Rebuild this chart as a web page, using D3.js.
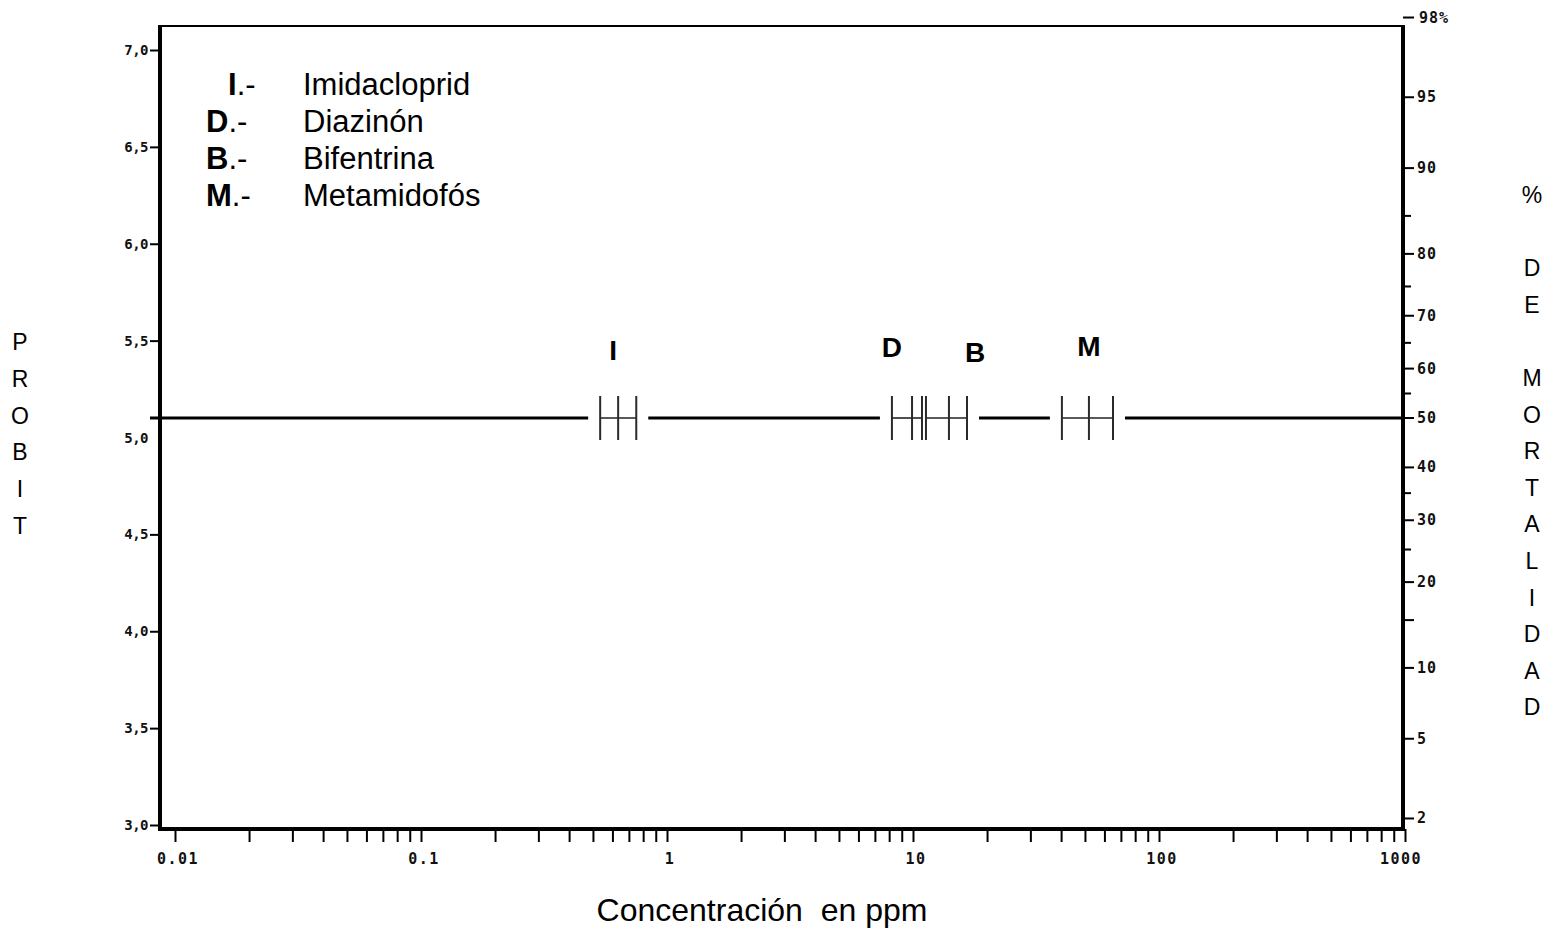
<!DOCTYPE html>
<html>
<head>
<meta charset="utf-8">
<script src="https://cdn.jsdelivr.net/npm/d3@7"></script>
<style>
	body { margin: 0; background: #fff; }
	svg { display: block; }
	.num { font-family: "DejaVu Sans Mono", monospace; font-weight: bold; font-size: 14px; fill: #111; }
	.title { font-family: "Liberation Sans", Arial, sans-serif; font-size: 23px; fill: #000; }
</style>
</head>
<body>
<div id="chart"></div>
<script>
// compounds and their LC50 with lower / upper confidence limits (ppm)
var codes = ['I', 'D', 'B', 'M'];
var names = ['Imidacloprid', 'Diazinón', 'Bifentrina', 'Metamidofós'];
var lc50 = [0.633, 9.91, 14.0, 51.9];
var lower = [0.535, 8.21, 11.29, 40.3];
var upper = [0.750, 10.88, 16.58, 65.0];
var mortality = 50; // all the marks sit at 50 % mortality

// axes
var probitTicks = [3.0, 3.5, 4.0, 4.5, 5.0, 5.5, 6.0, 6.5, 7.0];
var probitLabels = ['3,0', '3,5', '4,0', '4,5', '5,0', '5,5', '6,0', '6,5', '7,0'];
var pctTicks = [2, 5, 10, 20, 30, 40, 50, 60, 70, 80, 90, 95, 98];
var pctLabels = ['2', '5', '10', '20', '30', '40', '50', '60', '70', '80', '90', '95', '98%'];
var pctMinor = [15, 25, 35, 55, 65, 75, 85];
var decades = [0.01, 0.1, 1, 10, 100, 1000];
var decadeLabels = ['0.01', '0.1', '1', '10', '100', '1000'];

var params = {
	width: 1564, height: 931,
	left: 160, right: 1403, top: 26, bottom: 829
};

// inverse normal (Acklam), used to place % mortality on the probit scale
function normInv(p){
	var a = [-39.69683028665376, 220.9460984245205, -275.9285104469687, 138.3577518672690, -30.66479806614716, 2.506628277459239];
	var b = [-54.47609879822406, 161.5858368580409, -155.6989798598866, 66.80131188771972, -13.28068155288572];
	var c = [-0.007784894002430293, -0.3223964580411365, -2.400758277161838, -2.549732539343734, 4.374664141464968, 2.938163982698783];
	var d = [0.007784695709041462, 0.3224671290700398, 2.445134137142996, 3.754408661907416];
	var q, r;
	if (p < 0.02425){
		q = Math.sqrt(-2 * Math.log(p));
		return (((((c[0]*q+c[1])*q+c[2])*q+c[3])*q+c[4])*q+c[5]) / ((((d[0]*q+d[1])*q+d[2])*q+d[3])*q+1);
	}
	if (p > 1 - 0.02425){
		q = Math.sqrt(-2 * Math.log(1 - p));
		return -(((((c[0]*q+c[1])*q+c[2])*q+c[3])*q+c[4])*q+c[5]) / ((((d[0]*q+d[1])*q+d[2])*q+d[3])*q+1);
	}
	q = p - 0.5; r = q * q;
	return (((((a[0]*r+a[1])*r+a[2])*r+a[3])*r+a[4])*r+a[5])*q / (((((b[0]*r+b[1])*r+b[2])*r+b[3])*r+b[4])*r+1);
}
function probit(pct){ return 5 + normInv(pct / 100); }

var svg = d3.select('#chart').append('svg')
	.attr('width', params.width)
	.attr('height', params.height);

// scales
var x = d3.scaleLog().domain([0.01, 1000]).range([175, 1405]);
var yLeft = d3.scaleLinear().domain([3, 7]).range([825, 50]);
var yProbitRight = d3.scaleLinear().domain([3, 7]).range([808, 28]);
var yRight = function(pct){ return yProbitRight(probit(pct)); };

// x axis: every 1..9 x decade, labels only on decades
var xTicks = [];
decades.slice(0, -1).forEach(function(dec){
	for (var k = 1; k < 10; k++) xTicks.push(dec * k);
});
xTicks.push(1000);

var xAxis = svg.append('g')
	.attr('transform', 'translate(0,' + params.bottom + ')')
	.call(d3.axisBottom(x).tickValues(xTicks).tickSize(13).tickFormat(''));
xAxis.select('.domain').remove();
xAxis.selectAll('line').attr('stroke', '#000').attr('stroke-width', 2);

svg.selectAll('.xlab')
	.data(decades)
	.enter()
	.append('text')
		.attr('class', 'num')
		.attr('x', function(d){ return x(d) + (d == 1000 ? -4 : 3); })
		.attr('y', 864)
		.attr('text-anchor', 'middle')
		.style('font-size', '15px')
		.style('letter-spacing', '1.5px')
		.text(function(d, i){ return decadeLabels[i]; });

// left probit axis
var yAxisL = svg.append('g')
	.attr('transform', 'translate(' + params.left + ',0)')
	.call(d3.axisLeft(yLeft).tickValues(probitTicks).tickSize(10).tickFormat(''));
yAxisL.select('.domain').remove();
yAxisL.selectAll('line').attr('stroke', '#000').attr('stroke-width', 2);
yAxisL.selectAll('.tick').filter(function(d){ return d == 5; }).remove();

svg.selectAll('.ylab')
	.data(probitTicks)
	.enter()
	.append('text')
		.attr('class', 'num')
		.attr('x', 148)
		.attr('y', function(d){ return yLeft(d) + 5; })
		.attr('text-anchor', 'end')
		.style('font-size', '14px')
		.style('letter-spacing', '-0.5px')
		.text(function(d, i){ return probitLabels[i]; });

// right % mortality axis
svg.selectAll('.rtick')
	.data(pctTicks)
	.enter()
	.append('line')
		.attr('x1', params.right).attr('x2', params.right + 11)
		.attr('y1', function(d){ return yRight(d); })
		.attr('y2', function(d){ return yRight(d); })
		.attr('stroke', '#000').attr('stroke-width', 2);
svg.selectAll('.rminor')
	.data(pctMinor)
	.enter()
	.append('line')
		.attr('x1', params.right).attr('x2', function(d){ return params.right + (d == 15 ? 11 : 8); })
		.attr('y1', function(d){ return yRight(d); })
		.attr('y2', function(d){ return yRight(d); })
		.attr('stroke', '#000').attr('stroke-width', 2);
svg.selectAll('.rlab')
	.data(pctTicks)
	.enter()
	.append('text')
		.attr('class', 'num')
		.attr('x', function(d){ return d == 98 ? params.right + 16 : params.right + 14; })
		.attr('y', function(d){ return yRight(d) + 5; })
		.style('font-size', '15px')
		.style('letter-spacing', '1px')
		.text(function(d, i){ return pctLabels[i]; });

// frame
svg.append('line').attr('x1', params.left).attr('x2', params.right + 1)
	.attr('y1', params.top).attr('y2', params.top).attr('stroke', '#000').attr('stroke-width', 2);
svg.append('line').attr('x1', params.left - 2).attr('x2', params.right + 2)
	.attr('y1', params.bottom).attr('y2', params.bottom).attr('stroke', '#000').attr('stroke-width', 4);
svg.append('line').attr('x1', params.left).attr('x2', params.left)
	.attr('y1', params.top - 1).attr('y2', params.bottom + 2).attr('stroke', '#000').attr('stroke-width', 4);
svg.append('line').attr('x1', params.right).attr('x2', params.right)
	.attr('y1', params.top - 1).attr('y2', params.bottom + 2).attr('stroke', '#000').attr('stroke-width', 4);

// 50 % line, broken around the confidence intervals
var yMid = yRight(mortality);
var gapPad = 12;
var gaps = codes.map(function(c, i){ return [x(lower[i]) - gapPad, x(upper[i]) + gapPad]; })
	.sort(function(a, b){ return a[0] - b[0]; });
var merged = [];
gaps.forEach(function(g){
	var last = merged[merged.length - 1];
	if (last && g[0] <= last[1]) last[1] = Math.max(last[1], g[1]);
	else merged.push(g.slice());
});
var segs = [];
var start = params.left - 10;
merged.forEach(function(g){ segs.push([start, g[0]]); start = g[1]; });
segs.push([start, params.right]);

svg.selectAll('.seg')
	.data(segs)
	.enter()
	.append('line')
		.attr('x1', function(d){ return d[0]; })
		.attr('x2', function(d){ return d[1]; })
		.attr('y1', yMid).attr('y2', yMid)
		.attr('stroke', '#000').attr('stroke-width', 3);

// confidence interval marks
var marks = svg.selectAll('.mark')
	.data(codes)
	.enter()
	.append('g')
		.attr('class', 'mark');
marks.append('line')
	.attr('x1', function(d, i){ return x(lower[i]); })
	.attr('x2', function(d, i){ return x(upper[i]); })
	.attr('y1', yMid).attr('y2', yMid)
	.attr('stroke', '#222').attr('stroke-width', 1.6);
[lower, lc50, upper].forEach(function(arr){
	marks.append('line')
		.attr('x1', function(d, i){ return x(arr[i]); })
		.attr('x2', function(d, i){ return x(arr[i]); })
		.attr('y1', yMid - 22).attr('y2', yMid + 22)
		.attr('stroke', '#2a2a2a').attr('stroke-width', 2);
});

// letters above the marks
var labelAnchor = [lc50, lower, upper, lc50];
var labelDx = [-5, 0, 8, 0];
var labelDy = [-68, -71, -66, -72];
marks.append('text')
	.attr('x', function(d, i){ return x(labelAnchor[i][i]) + labelDx[i]; })
	.attr('y', function(d, i){ return yMid + labelDy[i] + 10; })
	.attr('text-anchor', 'middle')
	.style('font-family', '"Liberation Sans", Arial, sans-serif')
	.style('font-weight', 'bold')
	.style('font-size', '28px')
	.text(function(d){ return d; });

// legend
var legend = svg.selectAll('.leg')
	.data(codes)
	.enter()
	.append('g')
		.attr('transform', function(d, i){ return 'translate(0,' + (84 + i * 37) + ')'; });
var code = legend.append('text')
	.attr('x', function(d, i){ return i == 0 ? 228 : 206; })
	.attr('y', 11)
	.style('font-family', '"Liberation Sans", Arial, sans-serif')
	.style('font-size', '31px');
code.append('tspan').style('font-weight', 'bold').text(function(d){ return d; });
code.append('tspan').text('.-');
legend.append('text')
	.attr('x', 303)
	.attr('y', 11)
	.style('font-family', '"Liberation Sans", Arial, sans-serif')
	.style('font-size', '31px')
	.text(function(d, i){ return names[i]; });

// axis titles
var leftTitle = 'PROBIT'.split('');
svg.selectAll('.lt')
	.data(leftTitle)
	.enter()
	.append('text')
		.attr('class', 'title')
		.attr('x', 20)
		.attr('y', function(d, i){ return 350 + i * 36.8; })
		.attr('text-anchor', 'middle')
		.text(function(d){ return d; });

var rightTitle = ['%', '', 'D', 'E', '', 'M', 'O', 'R', 'T', 'A', 'L', 'I', 'D', 'A', 'D'];
svg.selectAll('.rt')
	.data(rightTitle)
	.enter()
	.append('text')
		.attr('class', 'title')
		.attr('x', 1532)
		.attr('y', function(d, i){ return 203 + i * 36.6; })
		.attr('text-anchor', 'middle')
		.text(function(d){ return d; });

svg.append('text')
	.attr('class', 'title')
	.attr('x', 762)
	.attr('y', 921)
	.attr('text-anchor', 'middle')
	.style('font-size', '32px')
	.attr('xml:space', 'preserve')
	.text('Concentración  en ppm');
</script>
</body>
</html>
